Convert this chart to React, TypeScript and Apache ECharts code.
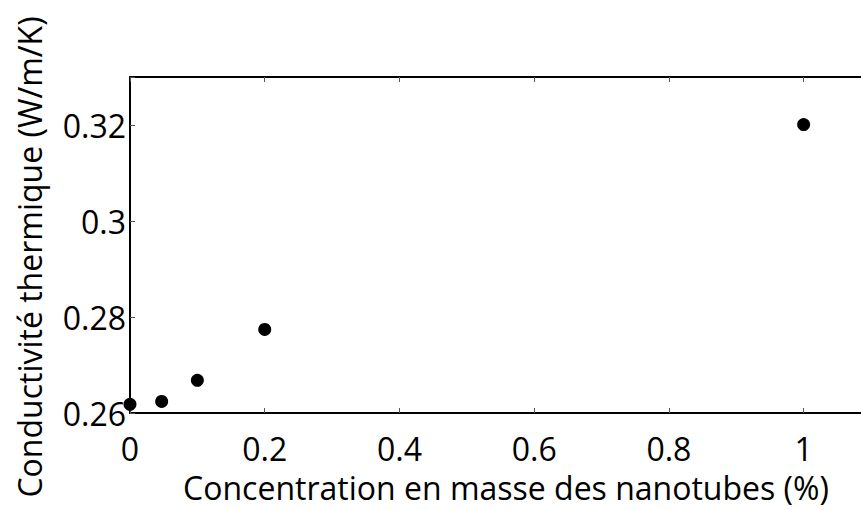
import React, { useEffect, useRef } from "react";
import * as echarts from "echarts";

const concentrations = [0, 0.047, 0.1, 0.2, 1];
const conductivities = [0.2618, 0.2624, 0.2668, 0.2774, 0.3201];
const xTicks = [0, 0.2, 0.4, 0.6, 0.8, 1];
const yTicks = [0.26, 0.28, 0.3, 0.32];
const xTitle = "Concentration en masse des nanotubes (%)";
const yTitle = "Conductivité thermique (W/m/K)";

const FONT = "Open Sans";
const FS = 32;

function near(v: number, list: number[]) {
  return list.some((t) => Math.abs(t - v) < 1e-6);
}

export default function App() {
  const ref = useRef<HTMLDivElement>(null);
  useEffect(() => {
    if (!ref.current) return;
    const chart = echarts.init(ref.current, undefined, { renderer: "svg" });
    const axisCommon = {
      axisLine: { show: true, onZero: false, lineStyle: { color: "#000", width: 2 } },
      axisTick: { show: true, inside: true, length: 5, lineStyle: { color: "#555", width: 1 } },
      splitLine: { show: false },
    };
    chart.setOption({
      animation: false,
      backgroundColor: "#fff",
      grid: { left: 130, top: 77, right: 29, bottom: 97, containLabel: false, show: false },
      xAxis: [
        {
          type: "value",
          min: 0,
          max: 1.1,
          interval: 0.2,
          position: "bottom",
          ...axisCommon,
          axisLabel: {
            color: "#000",
            fontFamily: FONT,
            fontSize: FS,
            margin: 19,
            formatter: (v: number) => (near(v, xTicks) ? String(Math.round(v * 10) / 10) : ""),
          },
        },
        {
          type: "value",
          min: 0,
          max: 1.1,
          interval: 0.2,
          position: "top",
          ...axisCommon,
          axisLabel: { show: false },
        },
      ],
      yAxis: [
        {
          type: "value",
          min: 0.26,
          max: 0.33,
          interval: 0.02,
          position: "left",
          ...axisCommon,
          axisLabel: {
            color: "#000",
            fontFamily: FONT,
            fontSize: FS,
            margin: 4,
            formatter: (v: number) => (near(v, yTicks) ? String(Math.round(v * 100) / 100) : ""),
          },
        },
      ],
      series: [
        {
          type: "scatter",
          symbol: "circle",
          symbolSize: 13,
          itemStyle: { color: "#000", opacity: 1 },
          data: concentrations.map((x, i) => [x, conductivities[i]]),
        },
      ],
      graphic: [
        {
          type: "text",
          x: 506,
          y: 487,
          style: {
            text: xTitle,
            fontFamily: FONT,
            fontSize: FS,
            fill: "#000",
            textAlign: "center",
            textVerticalAlign: "middle",
          },
        },
        {
          type: "text",
          x: 29,
          y: 257,
          rotation: Math.PI / 2,
          style: {
            text: yTitle,
            fontFamily: FONT,
            fontSize: FS,
            fill: "#000",
            textAlign: "center",
            textVerticalAlign: "middle",
          },
        },
      ],
    });
    return () => chart.dispose();
  }, []);
  return (
    <div style={{ position: "absolute", left: 0, top: 0, width: 861, height: 510, overflow: "hidden" }}>
      <div ref={ref} style={{ width: 900, height: 510 }} />
    </div>
  );
}
